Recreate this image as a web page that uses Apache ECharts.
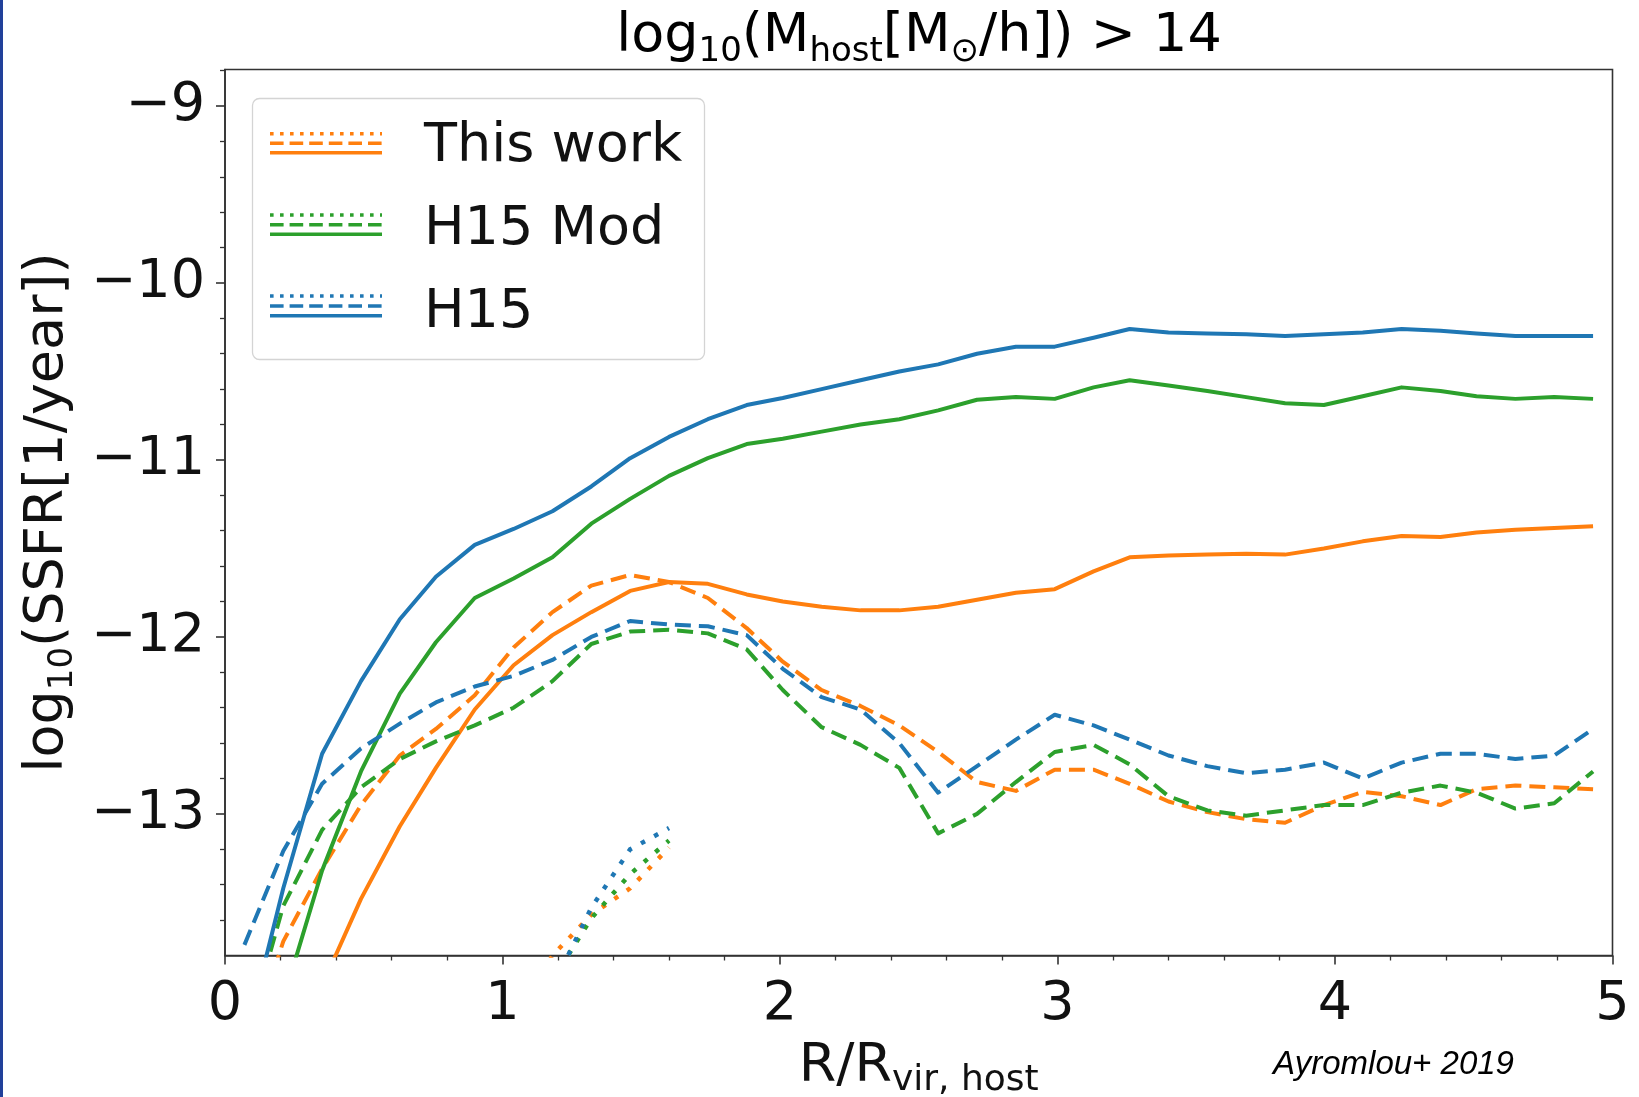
<!DOCTYPE html>
<html><head><meta charset="utf-8">
<script src="https://cdn.jsdelivr.net/npm/echarts@6/dist/echarts.min.js"></script>
<style>html,body{margin:0;padding:0;background:#fff}#c{width:1639px;height:1097px}</style>
</head><body><div id="c"></div>
<script>
// ---- data ----
const xs = [0.07,0.21,0.35,0.49,0.63,0.76,0.90,1.04,1.18,1.32,1.46,1.60,1.74,1.88,2.01,2.15,2.29,2.43,2.57,2.71,2.85,2.99,3.13,3.26,3.40,3.54,3.68,3.82,3.96,4.10,4.24,4.38,4.51,4.65,4.79,4.93];

const thisWorkSolid = [-15.0,-14.45,-13.97,-13.48,-13.07,-12.74,-12.41,-12.16,-11.99,-11.86,-11.74,-11.69,-11.70,-11.76,-11.80,-11.83,-11.85,-11.85,-11.83,-11.79,-11.75,-11.73,-11.63,-11.55,-11.54,-11.535,-11.53,-11.535,-11.50,-11.46,-11.43,-11.435,-11.41,-11.395,-11.385,-11.375];
const thisWorkDashed = [-14.40,-13.72,-13.31,-12.95,-12.67,-12.52,-12.33,-12.06,-11.86,-11.71,-11.65,-11.69,-11.78,-11.95,-12.14,-12.30,-12.39,-12.50,-12.65,-12.82,-12.87,-12.75,-12.75,-12.83,-12.93,-12.99,-13.03,-13.05,-12.95,-12.875,-12.90,-12.95,-12.86,-12.84,-12.85,-12.86];

const h15ModSolid = [-14.60,-14.05,-13.32,-12.76,-12.32,-12.03,-11.78,-11.67,-11.55,-11.36,-11.22,-11.09,-10.99,-10.91,-10.88,-10.84,-10.80,-10.77,-10.72,-10.66,-10.645,-10.655,-10.59,-10.55,-10.58,-10.61,-10.645,-10.68,-10.69,-10.64,-10.59,-10.61,-10.64,-10.655,-10.645,-10.655];
const h15ModDashed = [-14.30,-13.52,-13.09,-12.85,-12.69,-12.59,-12.50,-12.40,-12.25,-12.04,-11.97,-11.96,-11.98,-12.07,-12.30,-12.51,-12.61,-12.74,-13.11,-13.00,-12.82,-12.65,-12.61,-12.72,-12.90,-12.98,-13.01,-12.98,-12.95,-12.95,-12.88,-12.84,-12.88,-12.97,-12.94,-12.76];

const h15Solid = [-14.30,-13.42,-12.66,-12.25,-11.90,-11.66,-11.48,-11.39,-11.29,-11.15,-10.99,-10.87,-10.77,-10.69,-10.65,-10.60,-10.55,-10.50,-10.46,-10.40,-10.36,-10.36,-10.31,-10.26,-10.28,-10.285,-10.29,-10.30,-10.29,-10.28,-10.26,-10.27,-10.285,-10.30,-10.30,-10.30];
const h15Dashed = [-13.74,-13.21,-12.83,-12.63,-12.49,-12.37,-12.28,-12.22,-12.13,-12.00,-11.91,-11.93,-11.94,-11.99,-12.18,-12.34,-12.41,-12.60,-12.88,-12.73,-12.58,-12.44,-12.50,-12.58,-12.67,-12.73,-12.77,-12.75,-12.71,-12.80,-12.71,-12.66,-12.66,-12.69,-12.67,-12.52];

const dottedX = [1.04,1.18,1.32,1.46,1.60];
const thisWorkDotted = [-14.20,-13.80,-13.57,-13.42,-13.19];
const h15ModDotted = [-14.30,-13.94,-13.59,-13.34,-13.15];
const h15Dotted = [-14.40,-13.98,-13.53,-13.20,-13.08];

const xTicks = [0,1,2,3,4,5];
const yMajorTicks = [-13,-12,-11,-10,-9];
const yMinorTicks = [-13.6,-13.4,-13.2,-12.8,-12.6,-12.4,-12.2,-11.8,-11.6,-11.4,-11.2,-10.8,-10.6,-10.4,-10.2,-9.8,-9.6,-9.4,-9.2,-8.8];
const legendNames = ['This work','H15 Mod','H15'];

// ---- styling ----
const C_OR = '#ff7f0e', C_GR = '#2ca02c', C_BL = '#1f77b4';
const FONT = 'DejaVu Sans';
const AX = '#333';
const LW = 4;
const DASH = [16, 8];
const DOT = [4.5, 10.5];

function pairs(x, y){ return x.map((v,i)=>[v,y[i]]); }
function ser(name, x, y, color, kind){
  const ls = {color: color, width: kind==='dot'?4.5:LW, type: kind==='solid'?'solid':(kind==='dash'?DASH:DOT), cap:'butt', join:'round'};
  return {name:name, type:'line', data:pairs(x,y), showSymbol:false, symbol:'none', lineStyle:ls, itemStyle:{color:color}, clip:true, z: 3, animation:false};
}

const minus = v => (v<0?'\u2212':'') + Math.abs(v);

const richMain = {fontFamily:FONT, fontSize:54, color:'#111', lineHeight:64};
const richSub = {fontFamily:FONT, fontSize:34, color:'#111', lineHeight:34, verticalAlign:'bottom'};
const richSub2 = {fontFamily:FONT, fontSize:36, color:'#111', lineHeight:36, verticalAlign:'bottom'};

const chart = echarts.init(document.getElementById('c'), null, {renderer:'canvas'});

const legendGraphics = [];
const legendRows = [
  {name:legendNames[0], color:C_OR, ys:[133.7,143.3,152.7], ty:147},
  {name:legendNames[1], color:C_GR, ys:[215,224.7,234.3], ty:230},
  {name:legendNames[2], color:C_BL, ys:[296,306,315.7], ty:313}
];
legendGraphics.push({type:'rect', z:100, shape:{x:252.5,y:98.5,width:452,height:261,r:7}, style:{fill:'rgba(255,255,255,0.9)', stroke:'#d4d4d4', lineWidth:1.3}});
legendRows.forEach(r=>{
  legendGraphics.push({type:'line', z:101, shape:{x1:270,y1:r.ys[0],x2:382,y2:r.ys[0]}, style:{stroke:r.color, lineWidth:3.6, lineDash:[3.6,6.4]}});
  legendGraphics.push({type:'line', z:101, shape:{x1:270,y1:r.ys[1],x2:382,y2:r.ys[1]}, style:{stroke:r.color, lineWidth:3.6, lineDash:[13.6,6]}});
  legendGraphics.push({type:'line', z:101, shape:{x1:270,y1:r.ys[2],x2:382,y2:r.ys[2]}, style:{stroke:r.color, lineWidth:3.6}});
  legendGraphics.push({type:'text', z:101, x:424, y:r.ty, style:{text:r.name, fontFamily:FONT, fontSize:54, fill:'#111', verticalAlign:'middle', align:'left'}});
});

const option = {
  backgroundColor:'#fff',
  animation:false,
  grid:{left:225, top:69.5, right:26.5, bottom:141.5, outerBoundsMode:'none', containLabel:false, show:true, borderColor:AX, borderWidth:1.6, backgroundColor:'transparent'},
  xAxis:{
    type:'value', min:xTicks[0], max:xTicks[xTicks.length-1], interval:1,
    axisLine:{show:true, lineStyle:{color:AX, width:1.6}},
    axisTick:{show:true, length:9, lineStyle:{color:AX, width:1.6}},
    minorTick:{show:true, splitNumber:5, length:5, lineStyle:{color:AX, width:1.3}},
    splitLine:{show:false}, minorSplitLine:{show:false},
    axisLabel:{fontFamily:FONT, fontSize:54, color:'#111', margin:22, formatter:v=>minus(v)},
    name:'{a|R/R}{b|vir, host}', nameLocation:'middle', nameGap:79,
    nameTextStyle:{fontFamily:FONT, fontSize:54, color:'#111', rich:{a:richMain, b:richSub2}}
  },
  yAxis:[{
    type:'value', min:-13.8, max:-8.794,
    axisLine:{show:true, lineStyle:{color:AX, width:1.6}},
    axisTick:{show:true, length:9, lineStyle:{color:AX, width:1.6}, customValues:yMajorTicks},
    splitLine:{show:false},
    axisLabel:{fontFamily:FONT, fontSize:54, color:'#111', margin:20, customValues:yMajorTicks, formatter:v=>minus(v)},
    name:'{a|log}{b|10}{a|(SSFR[1/year])}', nameLocation:'middle', nameRotate:90, nameGap:143,
    nameTextStyle:{fontFamily:FONT, fontSize:54, color:'#111', rich:{a:richMain, b:richSub}}
  },{
    type:'value', min:-13.8, max:-8.794, position:'left',
    axisLine:{show:false},
    axisTick:{show:true, length:5, lineStyle:{color:AX, width:1.3}, customValues:yMinorTicks},
    axisLabel:{show:false}, splitLine:{show:false}
  }],
  series:[
    ser(legendNames[0], xs, thisWorkSolid, C_OR, 'solid'),
    ser(legendNames[0]+' dashed', xs, thisWorkDashed, C_OR, 'dash'),
    ser(legendNames[0]+' dotted', dottedX, thisWorkDotted, C_OR, 'dot'),
    ser(legendNames[1], xs, h15ModSolid, C_GR, 'solid'),
    ser(legendNames[1]+' dashed', xs, h15ModDashed, C_GR, 'dash'),
    ser(legendNames[1]+' dotted', dottedX, h15ModDotted, C_GR, 'dot'),
    ser(legendNames[2], xs, h15Solid, C_BL, 'solid'),
    ser(legendNames[2]+' dashed', xs, h15Dashed, C_BL, 'dash'),
    ser(legendNames[2]+' dotted', dottedX, h15Dotted, C_BL, 'dot')
  ],
  graphic:[
    {type:'rect', z:100, shape:{x:0,y:0,width:3,height:1097}, style:{fill:'#21409a'}},
    {type:'text', z:100, x:919, y:5, style:{text:'{a|log}{b|10}{a|(M}{b|host}{a|[M}{b|\u2299}{a|/h]) > 14}', align:'center', verticalAlign:'top', rich:{a:richMain, b:richSub}}},
    {type:'text', z:100, x:1273, y:1065, style:{text:'Ayromlou+ 2019', fontFamily:'Liberation Sans', fontStyle:'italic', fontSize:33, fill:'#000', verticalAlign:'middle', align:'left'}}
  ].concat(legendGraphics)
};
chart.setOption(option);
</script>
</body></html>
